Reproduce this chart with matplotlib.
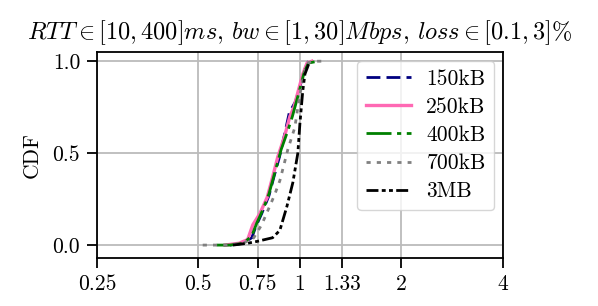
import numpy as np
import matplotlib
matplotlib.use("Agg")
import matplotlib.pyplot as plt

plt.rcParams["font.family"] = "serif"
plt.rcParams["font.serif"] = ["cmr10"]
plt.rcParams["mathtext.fontset"] = "cm"
plt.rcParams["axes.unicode_minus"] = False
plt.rcParams["font.size"] = 15.5

# CDF punkter lest fra figuren (x = normalisert PCT, y = CDF)
x_150kB = [0.62, 0.68, 0.72, 0.74, 0.77, 0.81, 0.84, 0.87, 0.90, 0.93, 0.97, 1.0, 1.03, 1.06]
cdf_150kB = [0.0, 0.01, 0.04, 0.10, 0.17, 0.27, 0.38, 0.48, 0.60, 0.72, 0.78, 0.86, 0.95, 1.0]

x_250kB = [0.60, 0.66, 0.70, 0.725, 0.76, 0.80, 0.83, 0.86, 0.90, 0.934, 0.96, 0.986, 1.02, 1.05, 1.085]
cdf_250kB = [0.0, 0.01, 0.03, 0.11, 0.17, 0.26, 0.37, 0.48, 0.59, 0.70, 0.75, 0.83, 0.93, 0.99, 1.0]

x_400kB = [0.567, 0.62, 0.68, 0.72, 0.745, 0.78, 0.81, 0.85, 0.88, 0.92, 0.95, 0.99, 1.03, 1.06, 1.13]
cdf_400kB = [0.0, 0.0, 0.01, 0.05, 0.12, 0.20, 0.28, 0.42, 0.52, 0.62, 0.70, 0.82, 0.94, 0.99, 1.0]

x_700kB = [0.515, 0.60, 0.68, 0.73, 0.77, 0.80, 0.84, 0.872, 0.921, 0.966, 0.986, 1.014, 1.05, 1.10, 1.186]
cdf_700kB = [0.0, 0.0, 0.01, 0.04, 0.11, 0.18, 0.27, 0.35, 0.52, 0.64, 0.75, 0.88, 0.99, 1.0, 1.0]

x_3MB = [0.633, 0.70, 0.746, 0.83, 0.872, 0.915, 0.953, 0.986, 1.0, 1.02, 1.035, 1.07]
cdf_3MB = [0.0, 0.01, 0.02, 0.04, 0.08, 0.21, 0.34, 0.50, 0.66, 0.84, 0.93, 1.0]

xticks = [0.25, 0.5, 0.75, 1, 1.33, 2, 4]
xtick_labels = ["0.25", "0.5", "0.75", "1", "1.33", "2", "4"]
yticks = [0.0, 0.5, 1.0]

fig = plt.figure(figsize=(5.98, 3.06), dpi=100)
ax = fig.add_axes([0.162, 0.157, 0.679, 0.673])

ax.plot(x_150kB, cdf_150kB, color="navy", linestyle=(0, (5, 2.2)), linewidth=2, label="150kB")
ax.plot(x_250kB, cdf_250kB, color="hotpink", linestyle="-", linewidth=2.4, label="250kB")
ax.plot(x_400kB, cdf_400kB, color="green", linestyle=(0, (9, 2, 1.5, 2)), linewidth=2, label="400kB")
ax.plot(x_700kB, cdf_700kB, color="gray", linestyle=(0, (1.5, 2.2)), linewidth=2, label="700kB")
ax.plot(x_3MB, cdf_3MB, color="black", linestyle=(0, (4.3, 1.2, 1.4, 1.2, 1.4, 1.2)), linewidth=2, label="3MB")

ax.set_xscale("log", base=2)
ax.set_xlim(0.25, 4)
ax.set_ylim(-0.07, 1.05)
ax.set_xticks(xticks)
ax.set_xticklabels(xtick_labels)
ax.minorticks_off()
ax.set_yticks(yticks)
ax.set_yticklabels(["0.0", "0.5", "1.0"])
ax.tick_params(direction="out", length=7, width=1.3, pad=5)
for sp in ax.spines.values():
    sp.set_linewidth(1.3)

ax.grid(True, color="#bbbbbb", linewidth=1.3)
ax.set_axisbelow(True)

ax.set_title(r"$RTT \in [10,400]ms$, $bw \in [1,30]Mbps$, $loss \in [0.1,3]\%$", fontsize=17.5, pad=9)
ax.set_ylabel("CDF", labelpad=8)
ax.set_xlabel(r"$PCT$", fontsize=11, labelpad=11)

ax.legend(loc="upper right", handlelength=2.1, framealpha=0.8, fontsize=15.5,
          borderaxespad=0.4, labelspacing=0.4, borderpad=0.4, handletextpad=0.7)

fig.savefig("out.png", dpi=100)
